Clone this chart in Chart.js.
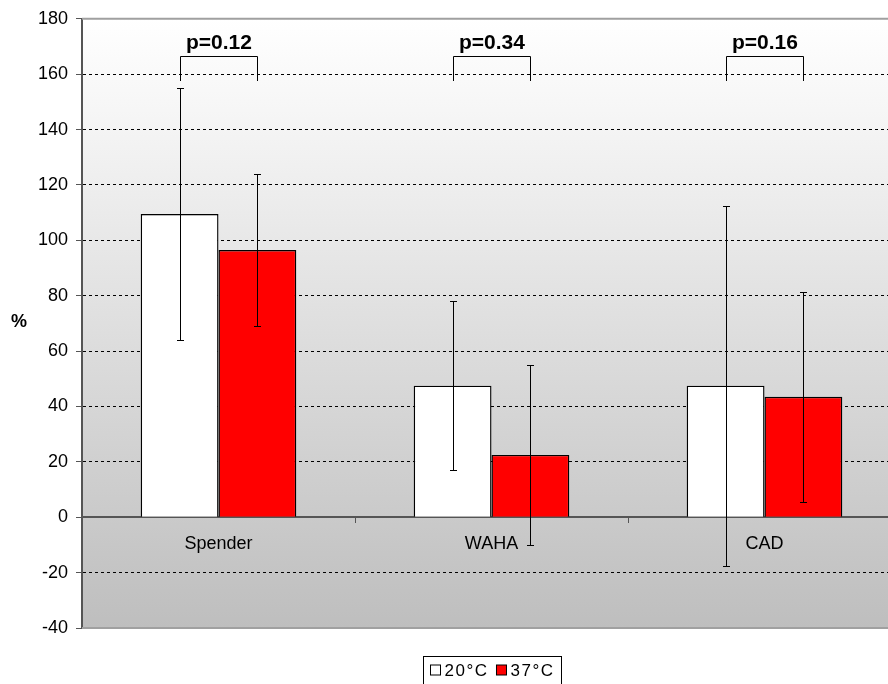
<!DOCTYPE html>
<html>
<head>
<meta charset="utf-8">
<script src="https://cdn.jsdelivr.net/npm/chart.js@4.4.1/dist/chart.umd.min.js"></script>
<style>
  html, body { margin: 0; padding: 0; background: #fff; overflow: hidden; }
  #wrap { position: relative; width: 901px; height: 684px; }
</style>
</head>
<body>
<div id="wrap"><canvas id="chart"></canvas></div>
<script>
const categories = ['Spender', 'WAHA', 'CAD'];
const seriesLabels = ['20°C', '37°C'];
const values20 = [109.5, 47.5, 47.5];
const values37 = [96.5, 22.5, 43.5];
const err20 = [45.5, 30.5, 65];
const err37 = [27.5, 32.5, 38];
const pLabels = ['p=0.12', 'p=0.34', 'p=0.16'];
const yTicks = [-40, -20, 0, 20, 40, 60, 80, 100, 120, 140, 160, 180];

const FONT = "'Liberation Sans', Arial, sans-serif";

// background gradient, error bars, p-value brackets, % label and boxed legend
const extras = {
  id: 'extras',
  beforeDraw(chart) {
    const { ctx, chartArea: a } = chart;
    const g = ctx.createLinearGradient(0, a.top, 0, a.bottom);
    g.addColorStop(0, '#ffffff');
    g.addColorStop(0.15, '#f6f6f6');
    g.addColorStop(1, '#bebebe');
    ctx.save();
    ctx.fillStyle = g;
    ctx.fillRect(a.left, a.top, a.right - a.left, a.bottom - a.top);
    ctx.restore();
  },
  afterDatasetsDraw(chart) {
    const { ctx, chartArea: a, scales: { y } } = chart;
    ctx.save();
    // plot frame top / bottom
    ctx.strokeStyle = '#a0a0a0';
    ctx.lineWidth = 2;
    ctx.beginPath();
    ctx.moveTo(a.left, a.top); ctx.lineTo(a.right, a.top);
    ctx.moveTo(a.left, a.bottom); ctx.lineTo(a.right, a.bottom);
    ctx.stroke();

    // error bars
    const errs = [err20, err37];
    ctx.strokeStyle = '#000';
    ctx.lineWidth = 1;
    chart.data.datasets.forEach((ds, di) => {
      chart.getDatasetMeta(di).data.forEach((bar, i) => {
        const x = Math.round(bar.x) + 0.5;
        const hi = Math.round(y.getPixelForValue(ds.data[i] + errs[di][i])) + 0.5;
        const lo = Math.round(y.getPixelForValue(ds.data[i] - errs[di][i])) + 0.5;
        ctx.beginPath();
        ctx.moveTo(x, hi); ctx.lineTo(x, lo);
        ctx.moveTo(x - 3.5, hi); ctx.lineTo(x + 3.5, hi);
        ctx.moveTo(x - 3.5, lo); ctx.lineTo(x + 3.5, lo);
        ctx.stroke();
      });
    });

    // brackets with p-values
    const m0 = chart.getDatasetMeta(0).data;
    const m1 = chart.getDatasetMeta(1).data;
    const top = Math.round(y.getPixelForValue(166.5)) + 0.5;
    const leg = Math.round(y.getPixelForValue(157.5));
    ctx.font = 'bold 21px ' + FONT;
    ctx.fillStyle = '#000';
    ctx.textAlign = 'center';
    ctx.textBaseline = 'alphabetic';
    pLabels.forEach((p, i) => {
      const x0 = Math.round(m0[i].x) + 0.5;
      const x1 = Math.round(m1[i].x) + 0.5;
      ctx.beginPath();
      ctx.moveTo(x0, leg); ctx.lineTo(x0, top); ctx.lineTo(x1, top); ctx.lineTo(x1, leg);
      ctx.stroke();
      ctx.fillText(p, (x0 + x1) / 2, top - 8);
    });
    ctx.restore();
  },
  afterDraw(chart) {
    const { ctx, chartArea: a } = chart;
    ctx.save();
    ctx.fillStyle = '#000';
    ctx.font = 'bold 18px ' + FONT;
    ctx.textAlign = 'center';
    ctx.textBaseline = 'middle';
    ctx.fillText('%', 19, 322);

    // legend, boxed and centred under the plot area
    ctx.font = '17px ' + FONT;
    ctx.letterSpacing = '1.5px';
    ctx.textAlign = 'left';
    const box = 10, gap = 4, itemGap = 8, pad = 7;
    const items = chart.data.datasets.map(ds => ({ text: ds.label, color: ds.backgroundColor, w: ctx.measureText(ds.label).width }));
    const total = items.reduce((s, it) => s + box + gap + it.w, 0) + itemGap * (items.length - 1) + pad * 2;
    let x = Math.round((a.left + a.right) / 2 - total / 2) + 0.5;
    const ty = 656.5, cy = 670;
    ctx.strokeStyle = '#000';
    ctx.lineWidth = 1;
    ctx.strokeRect(x, ty, Math.round(total), 40);
    x += pad;
    items.forEach(it => {
      ctx.fillStyle = it.color;
      ctx.fillRect(x, cy - box / 2, box, box);
      ctx.strokeRect(x, cy - box / 2, box, box);
      x += box + gap;
      ctx.fillStyle = '#000';
      ctx.fillText(it.text, x, cy + 1);
      x += it.w + itemGap;
    });
    ctx.restore();
  }
};

new Chart(document.getElementById('chart').getContext('2d'), {
  type: 'bar',
  data: {
    labels: categories,
    datasets: [
      {
        label: seriesLabels[0],
        data: values20,
        backgroundColor: '#ffffff',
        borderColor: '#000000',
        borderWidth: 1.4,
        barPercentage: 1,
        categoryPercentage: 0.57
      },
      {
        label: seriesLabels[1],
        data: values37,
        backgroundColor: '#ff0000',
        borderColor: '#000000',
        borderWidth: 1.4,
        barPercentage: 1,
        categoryPercentage: 0.57
      }
    ]
  },
  options: {
    responsive: true,
    maintainAspectRatio: false,
    animation: false,
    layout: { padding: { top: 10, right: 0, bottom: 56, left: 0 } },
    plugins: {
      legend: { display: false },
      tooltip: { enabled: false }
    },
    scales: {
      x: {
        position: { y: 0 },
        grid: {
          offset: true,
          drawOnChartArea: false,
          tickLength: 5,
          color: '#555'
        },
        border: { color: '#555', width: 2 },
        ticks: {
          color: '#000',
          padding: 11,
          font: { family: FONT, size: 18 }
        }
      },
      y: {
        min: -40,
        max: 180,
        afterBuildTicks: scale => { scale.ticks = yTicks.map(v => ({ value: v })); },
        afterFit: scale => { scale.width = 82; },
        grid: {
          color: ctx => (ctx.tick && [0, 180, -40].includes(ctx.tick.value)) ? 'rgba(0,0,0,0)' : '#000',
          tickColor: '#555',
          tickLength: 6,
          tickBorderDash: [],
          lineWidth: 1
        },
        border: { color: '#555', width: 2, dash: [3, 3] },
        ticks: {
          color: '#000',
          padding: 8,
          font: { family: FONT, size: 18 }
        }
      }
    }
  },
  plugins: [extras]
});
</script>
</body>
</html>
